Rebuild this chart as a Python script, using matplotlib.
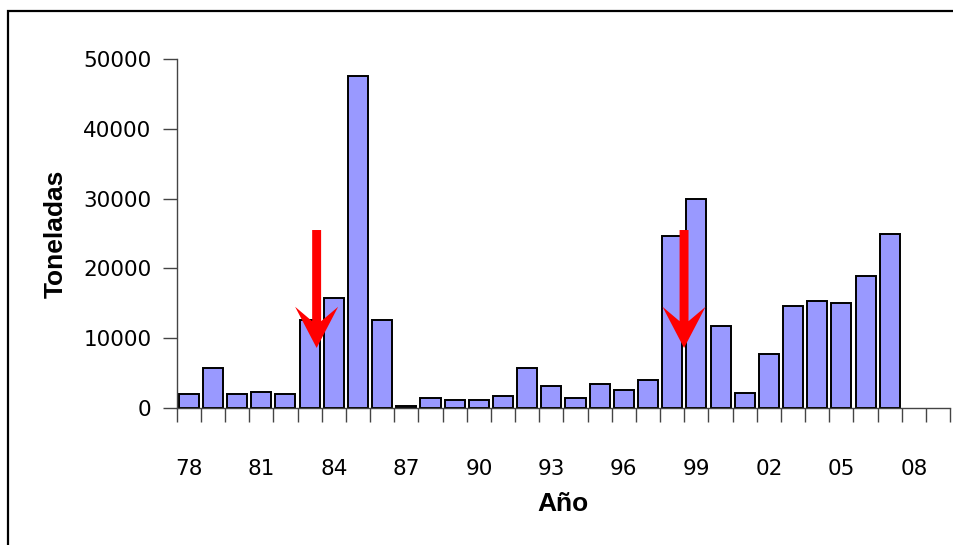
import matplotlib
matplotlib.use("Agg")
import matplotlib.pyplot as plt
import matplotlib.patches as mpatches
import numpy as np

# capturas anuales (toneladas), 1978-2009; 2008 y 2009 sin dato
years = list(range(1978, 2010))
catch_t = [2000, 5700, 2000, 2300, 2000, 12600, 15800, 47500, 12600, 300,
           1400, 1100, 1100, 1700, 5700, 3100, 1400, 3400, 2600, 4000,
           24600, 30000, 11700, 2200, 7700, 14600, 15400, 15100, 18900, 24900,
           0, 0]
tick_years = [1978, 1981, 1984, 1987, 1990, 1993, 1996, 1999, 2002, 2005, 2008]
y_ticks = [0, 10000, 20000, 30000, 40000, 50000]
# flechas: posición (año, en unidades de categoría) y rango vertical
arrow_years = [1983.29, 1998.49]
arrow_top, arrow_tip = 25500, 8600

fig = plt.figure(figsize=(9.54, 5.45), dpi=100)
ax = fig.add_axes([0.1852, 0.2514, 0.8108, 0.6403])

x = np.arange(len(years))
vals = np.array(catch_t, dtype=float)
has = vals > 0
ax.bar(x[has], vals[has], width=0.83, color="#9999ff", edgecolor="black",
       linewidth=1.4, zorder=2)

for yr in arrow_years:
    xa = yr - years[0]
    ax.add_patch(mpatches.FancyArrow(
        xa, arrow_top, 0, arrow_tip - arrow_top, width=0.37, head_width=1.78,
        head_length=5900, overhang=0.35, length_includes_head=True,
        color="red", lw=0, zorder=3))

ax.set_xlim(-0.5, len(years) - 0.5)
ax.set_ylim(0, 50000)
ax.set_yticks(y_ticks)
ax.set_yticklabels([str(v) for v in y_ticks])
ax.set_xticks([years.index(y) for y in tick_years])
ax.set_xticklabels([f"{y % 100:02d}" for y in tick_years])
# marcas de categoría entre barras (estilo Excel)
ax.set_xticks(np.arange(len(years) + 1) - 0.5, minor=True)
ax.tick_params(axis="x", which="major", length=0, pad=37, labelsize=15.5)
ax.tick_params(axis="x", which="minor", length=10, width=1, color="#444444")
ax.tick_params(axis="y", length=10, width=1, color="#444444", pad=8, labelsize=15.5)

for s in ("top", "right"):
    ax.spines[s].set_visible(False)
for s in ("left", "bottom"):
    ax.spines[s].set_color("#444444")
    ax.spines[s].set_linewidth(1)

ax.set_ylabel("Toneladas", fontsize=19, fontweight="bold",
              family="Liberation Sans", labelpad=11)
ax.set_xlabel("Año", fontsize=19, fontweight="bold",
              family="Liberation Sans", labelpad=9)

# marco exterior del gráfico (recortado a la derecha y abajo)
fig.add_artist(mpatches.Rectangle((8 / 954, -0.1), 1.2, 1.1 - 11 / 545,
                                  transform=fig.transFigure, fill=False,
                                  edgecolor="black", linewidth=1.6))

fig.savefig("out.png", dpi=100)
